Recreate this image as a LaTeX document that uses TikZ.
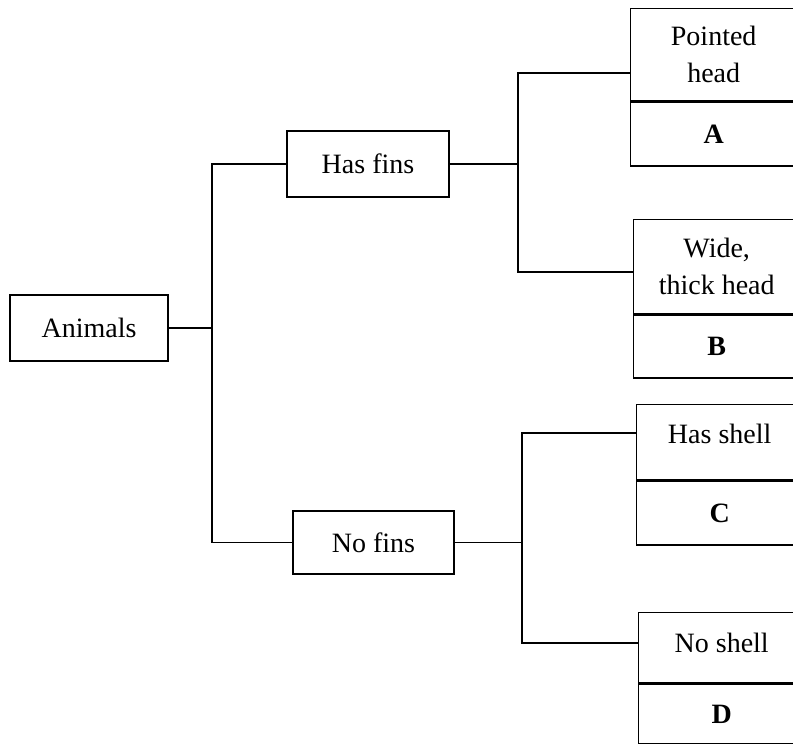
\documentclass[tikz,border=0pt]{standalone}
\usepackage{fontspec}
\setmainfont{Liberation Serif}
\begin{document}
\begin{tikzpicture}[x=1pt,y=-1pt,
  box/.style={draw, line width=1.4pt, inner sep=0pt, align=center, font=\fontsize{28}{37}\selectfont},
  link/.style={line width=1.4pt}]
\useasboundingbox (0,0) rectangle (793,744);
\clip (0,0) rectangle (793,744);
% left boxes
\node[box, minimum width=158, minimum height=66] (animals) at (89,328) {Animals};
\node[box, minimum width=162, minimum height=66] (hasfins) at (368,164) {Has fins};
\node[box, minimum width=161, minimum height=63] (nofins) at (373.5,542.5) {No fins};
% right boxes
\node[box, anchor=north west, minimum width=166, minimum height=92] (At) at (630,8) {Pointed\\head};
\node[box, anchor=north west, minimum width=166, minimum height=64] (Ab) at (At.south west) {\textbf{A}};
\node[box, anchor=north west, minimum width=166, minimum height=94] (Bt) at (633,219) {Wide,\\thick head};
\node[box, anchor=north west, minimum width=166, minimum height=63] (Bb) at (Bt.south west) {\textbf{B}};
\node[box, anchor=north west, minimum width=166, minimum height=75, text depth=16pt] (Ct) at (636,404) {Has shell};
\node[box, anchor=north west, minimum width=166, minimum height=70, text depth=10pt] (Dt) at (638,612) {No shell};
\node[box, anchor=north west, minimum width=166, minimum height=64] (Cb) at (Ct.south west) {\textbf{C}};
\node[box, anchor=north west, minimum width=166, minimum height=60] (Db) at (Dt.south west) {\textbf{D}};
% junctions
\coordinate (j1) at (212,328);
\coordinate (jA) at (518,73);
\coordinate (jB) at (518,272);
\coordinate (jC) at (522,433);
\coordinate (jD) at (522,643);
% connectors
\draw[link] (animals.east) -- (j1);
\draw[link] (hasfins.west) -| (j1) |- (nofins.west);
\draw[link] (hasfins.east) -- (hasfins.east -| jA);
\draw[link] (jA -| At.west) -- (jA) -- (jB) -- (jB -| Bt.west);
\draw[link] (nofins.east) -- (nofins.east -| jC);
\draw[link] (jC -| Ct.west) -- (jC) -- (jD) -- (jD -| Dt.west);
\end{tikzpicture}
\end{document}
